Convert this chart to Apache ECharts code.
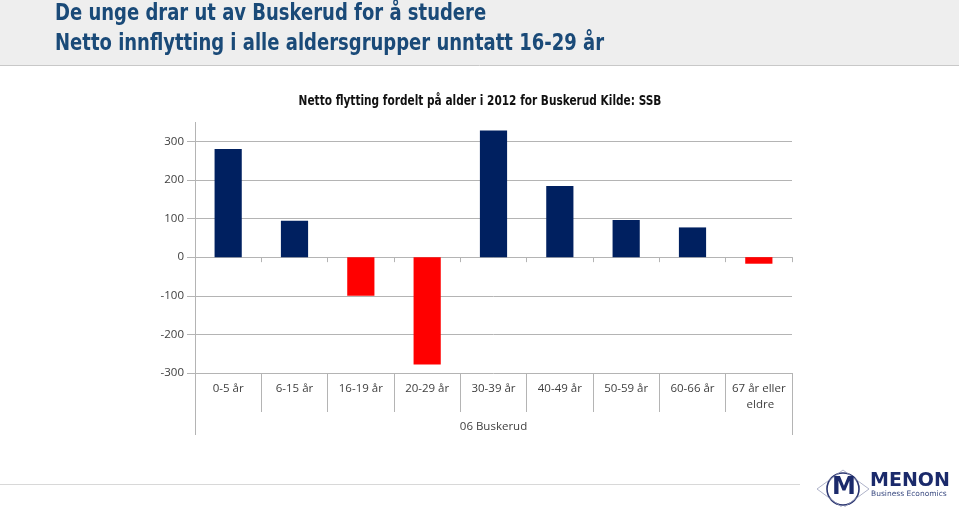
<!DOCTYPE html>
<html><head><meta charset="utf-8">
<script src="https://cdn.jsdelivr.net/npm/echarts@6/dist/echarts.min.js"></script>
<style>html,body{margin:0;padding:0;background:#fff}#c{width:959px;height:507px}</style>
</head><body><div id="c"></div>
<script>
var categories = ['0-5 år','6-15 år','16-19 år','20-29 år','30-39 år','40-49 år','50-59 år','60-66 år','67 år eller eldre'];
var values = [280, 94, -100, -278, 328, 184, 96, 77, -17];
var yTicks = [-300, -200, -100, 0, 100, 200, 300];
var groupName = '06 Buskerud';
var titleLine1 = 'De unge drar ut av Buskerud for å studere';
var titleLine2 = 'Netto innflytting i alle aldersgrupper unntatt 16-29 år';
var chartTitle = 'Netto flytting fordelt på alder i 2012 for Buskerud Kilde: SSB';

var chart = echarts.init(document.getElementById('c'));
var axisGray = '#b4b4b4';
var navy = '#002060';
var headFont = '"DejaVu Sans Condensed","Liberation Sans Narrow","Open Sans",sans-serif';
var bodyFont = '"Open Sans","Liberation Sans",sans-serif';
chart.setOption({
  animation: false,
  backgroundColor: '#ffffff',
  grid: {left: 195, right: 167, top: 122, bottom: 134, containLabel: false},
  graphic: [
    {type: 'rect', shape: {x: 0, y: 0, width: 959, height: 65}, style: {fill: '#eeeeee'}, z: -10},
    {type: 'line', shape: {x1: 0, y1: 65.5, x2: 959, y2: 65.5}, style: {stroke: '#c8c8c8', lineWidth: 1}},
    {type: 'text', x: 55, y: 14.5, scaleX: 0.87, style: {x: 0, y: 0, text: titleLine1, fill: '#1a4a78', font: 'bold 23px ' + headFont, verticalAlign: 'middle'}},
    {type: 'text', x: 55, y: 44, scaleX: 0.87, style: {x: 0, y: 0, text: titleLine2, fill: '#1a4a78', font: 'bold 23px ' + headFont, verticalAlign: 'middle'}},
    {type: 'text', x: 480, y: 101.5, scaleX: 0.87, style: {x: 0, y: 0, text: chartTitle, fill: '#111111', font: 'bold 13.5px ' + headFont, align: 'center', verticalAlign: 'middle'}},
    {type: 'line', shape: {x1: 195.5, y1: 122, x2: 195.5, y2: 435}, style: {stroke: axisGray, lineWidth: 1}},
    {type: 'line', shape: {x1: 792.5, y1: 373, x2: 792.5, y2: 435}, style: {stroke: axisGray, lineWidth: 1}},
    {type: 'line', shape: {x1: 0, y1: 484.5, x2: 800, y2: 484.5}, style: {stroke: '#d8d8d8', lineWidth: 1}},
    // logo
    {type: 'circle', shape: {cx: 843, cy: 489, r: 16}, style: {fill: 'none', stroke: '#2a3570', lineWidth: 1.6}},
    {type: 'polyline', shape: {points: [[817, 489], [843, 470], [869, 489], [843, 508], [817, 489]]}, style: {fill: 'none', stroke: '#9aa0bb', lineWidth: 0.8}},
    {type: 'text', left: 832, top: 476, style: {text: 'M', fill: '#1b2a6b', font: 'bold 24px "DejaVu Sans",sans-serif'}},
    {type: 'text', left: 870, top: 472, style: {text: 'MENON', fill: '#1b2a6b', font: 'bold 19px "DejaVu Sans",sans-serif'}},
    {type: 'text', left: 871, top: 490, style: {text: 'Business Economics', fill: '#3a4a80', font: '7.5px "DejaVu Sans",sans-serif'}}
  ],
  xAxis: [
    {
      type: 'category', data: categories, position: 'bottom',
      axisLine: {show: true, onZero: true, lineStyle: {color: axisGray}},
      axisTick: {show: true, interval: 0, length: 5, lineStyle: {color: axisGray}},
      axisLabel: {show: false}, splitLine: {show: false}
    },
    {
      type: 'category', data: categories, position: 'bottom', offset: 0,
      axisLine: {show: false, onZero: false},
      axisTick: {show: true, interval: 0, length: 39, lineStyle: {color: axisGray}},
      axisLabel: {show: true, interval: 0, margin: 8, color: '#404040', fontSize: 11.5, fontFamily: bodyFont, width: 62, overflow: 'break', lineHeight: 16},
      name: groupName, nameLocation: 'middle', nameGap: 48,
      nameTextStyle: {color: '#404040', fontSize: 11.5, fontFamily: bodyFont},
      splitLine: {show: false}
    }
  ],
  yAxis: {
    type: 'value', min: -300, max: 350, interval: 100,
    axisLine: {show: false},
    axisTick: {show: true, length: 8, lineStyle: {color: axisGray}, customValues: yTicks},
    axisLabel: {color: '#404040', fontSize: 11.5, fontFamily: bodyFont, margin: 11, customValues: yTicks},
    splitLine: {show: true, lineStyle: {color: axisGray, width: 1}}
  },
  series: [{
    type: 'bar', xAxisIndex: 1, data: values, barWidth: '41%',
    itemStyle: {color: function (p) { return p.value < 0 ? '#ff0000' : navy; }}
  }]
});
</script></body></html>
